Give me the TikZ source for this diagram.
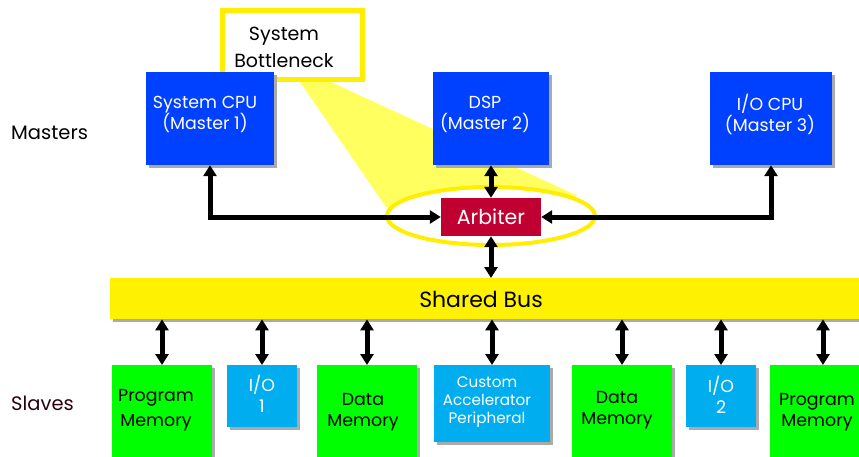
\documentclass[tikz,border=0pt]{standalone}
\usepackage{fontspec}
\setmainfont{Poppins}
\usetikzlibrary{arrows.meta,shapes.geometric,calc,shadows}
\definecolor{mblue}{HTML}{0040FF}
\definecolor{arbred}{HTML}{C00030}
\definecolor{sgreen}{HTML}{00FF00}
\definecolor{scyan}{HTML}{00AEEF}
\definecolor{busyel}{HTML}{FFF200}
\definecolor{ringyel}{HTML}{FFEE00}
\definecolor{beamyel}{HTML}{FFFF60}
\definecolor{shadowgray}{HTML}{AAAAAA}
\definecolor{slavecol}{HTML}{2A0010}
\begin{document}
\begin{tikzpicture}[x=1pt,y=-1pt,
  boxbase/.style={rectangle,inner sep=0pt,
    drop shadow={shadow xshift=3pt,shadow yshift=-3pt,fill=shadowgray,opacity=1}},
  master/.style={boxbase,fill=mblue},
  slavemem/.style={boxbase,fill=sgreen},
  slaveio/.style={boxbase,fill=scyan},
  wtext/.style={text=white,align=center,font=\fontsize{17.4}{21}\selectfont,inner sep=0pt},
  btext/.style={text=black,align=center,font=\fontsize{17.4}{21}\selectfont,inner sep=0pt},
  biarr/.style={line width=5pt,{Triangle[length=11pt,width=13pt]}-{Triangle[length=11pt,width=13pt]}},
]
\useasboundingbox (0,0) rectangle (859,456);
% beam
\coordinate (bm1) at (300,82);
\coordinate (bm2) at (331,82);
\coordinate (bm3) at (578,196);
\coordinate (bm4) at (491,216);
\coordinate (bm5) at (386,207);
\fill[beamyel] (bm1) -- (bm2) -- (bm3) -- (bm4) -- (bm5) -- cycle;
% bottleneck box
\node[draw=ringyel,line width=5pt,fill=white,minimum width=140pt,minimum height=69pt,inner sep=0pt] (bneck) at (292.5,45) {};
\node[btext,font=\fontsize{19}{27}\selectfont] (bnecktxt) at (284,47) {System\\Bottleneck};
% ellipse
\node[ellipse,draw=ringyel,line width=4pt,fill=white,minimum width=208pt,minimum height=58pt,inner sep=0pt] (ring) at (491,216) {};
% labels
\node[btext,font=\fontsize{19.5}{22}\selectfont,anchor=west] (mlabel) at (11,133) {Masters};
\node[btext,text=slavecol,font=\fontsize{19.5}{22}\selectfont,anchor=west] (slabel) at (11,403) {Slaves};
% masters
\node[master,minimum width=128pt,minimum height=93pt] (cpu1) at (210,118.5) {};
\node[wtext] (cpu1t) at (205,114) {System CPU\\(Master 1)};
\node[master,minimum width=116pt,minimum height=93pt] (dsp) at (491,118.5) {};
\node[wtext] (dspt) at (485,114) {DSP\\(Master 2)};
\node[master,minimum width=122pt,minimum height=93pt] (iocpu) at (771,118.5) {};
\node[wtext] (iocput) at (770,114) {I/O CPU\\(Master 3)};
% arbiter
\node[rectangle,fill=arbred,minimum width=100pt,minimum height=38pt,inner sep=0pt,text=white,font=\fontsize{20.5}{22}\selectfont] (arb) at (491,217) {Arbiter};
% bus
\node[boxbase,fill=busyel,minimum width=760pt,minimum height=41pt,anchor=north west] (bus) at (110,278) {};
\node[btext,font=\fontsize{22}{24}\selectfont] (bustxt) at (481,299) {Shared Bus};
% slaves
\node[slavemem,minimum width=100pt,minimum height=100pt,anchor=north] (pm1) at (162,365) {};
\node[btext,font=\fontsize{17.4}{25}\selectfont] (pm1t) at (156,410) {Program\\Memory};
\node[slaveio,minimum width=70pt,minimum height=62pt,anchor=north] (io1) at (262,365) {};
\node[wtext] (io1t) at (262,394) {I/O\\1};
\node[slavemem,minimum width=100pt,minimum height=100pt,anchor=north] (dm1) at (367,365) {};
\node[btext] (dm1t) at (363,412) {Data\\Memory};
\node[slaveio,minimum width=116pt,minimum height=77pt,anchor=north] (cap) at (492,365) {};
\node[wtext,font=\fontsize{15.2}{18}\selectfont] (capt) at (487,402) {Custom\\Accelerator\\Peripheral};
\node[slavemem,minimum width=100pt,minimum height=100pt,anchor=north] (dm2) at (622,365) {};
\node[btext] (dm2t) at (617,410) {Data\\Memory};
\node[slaveio,minimum width=70pt,minimum height=62pt,anchor=north] (io2) at (721,365) {};
\node[wtext] (io2t) at (721,395) {I/O\\2};
\node[slavemem,minimum width=106pt,minimum height=100pt,anchor=north] (pm2) at (823,365) {};
\node[btext] (pm2t) at (817,412) {Program\\Memory};
% connectors
\draw[biarr] (arb.west) -| (cpu1.south);
\draw[biarr] (arb.east) -| (iocpu.south);
\draw[biarr] (dsp.south) -- (arb.north);
\draw[biarr] (arb.south) -- (arb.south |- bus.north);
\foreach \s in {pm1,io1,dm1,cap,dm2,io2,pm2}{
  \draw[biarr] (\s.north |- bus.south) -- (\s.north);
}
\end{tikzpicture}
\end{document}
